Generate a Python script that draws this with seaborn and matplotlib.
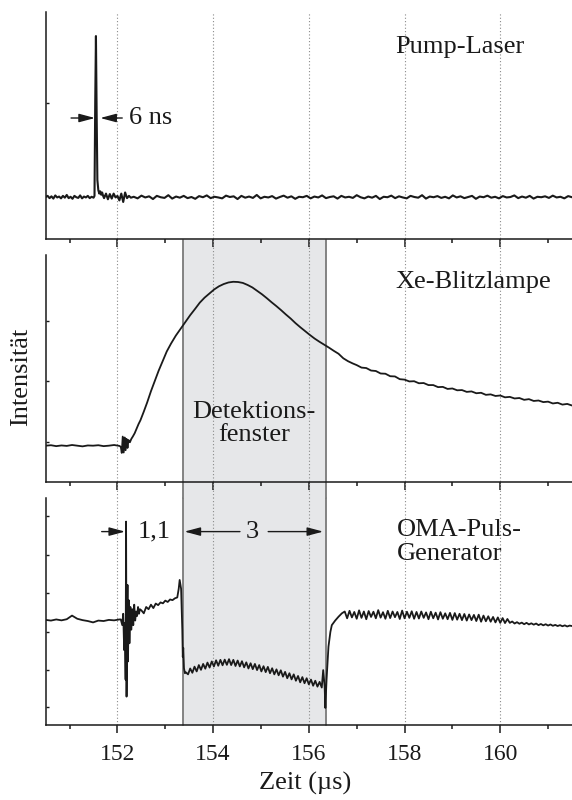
import numpy as np
import matplotlib
matplotlib.use("Agg")
import matplotlib.pyplot as plt
import seaborn as sns

sns.set_theme(style="ticks")
plt.rcParams['font.family'] = ['Liberation Serif', 'DejaVu Serif']
plt.rcParams['text.color'] = '#1a1a1a'
plt.rcParams['axes.labelcolor'] = '#1a1a1a'
plt.rcParams['xtick.color'] = '#1a1a1a'
plt.rcParams['ytick.color'] = '#1a1a1a'

# ---------------- data (intensity in arbitrary units, 0..1 per panel) ----------------
# Panel 1: Pump-Laser
pump_pre_y = [.185, .19, .18, .188, .178, .192, .183, .187, .179, .19, .182, .194, .18,
              .186, .177, .19, .184, .181, .192, .179, .187, .183, .19, .18, .186, .182]
pump_spike_x = [151.52, 151.535, 151.55, 151.565, 151.58, 151.60, 151.62, 151.64, 151.66,
                151.68, 151.70, 151.72, 151.76, 151.80, 151.84, 151.88, 151.92, 151.96,
                152.00, 152.04, 152.08, 152.12, 152.16, 152.20, 152.24, 152.28]
pump_spike_y = [.19, .60, .894, .55, .26, .215, .20, .21, .195, .205, .19, .18, .20, .175,
                .198, .178, .20, .183, .19, .17, .20, .163, .205, .18, .19, .182]
pump_post_y = [.186, .179, .191, .183, .188, .176, .19, .184, .181, .193, .178, .187, .182, .19, .18, .185, .177, .189, .184, .192,
               .18, .186, .183, .179, .191, .185, .188, .176, .19, .182, .187, .181, .194, .179, .186, .183, .189, .178, .185, .191,
               .182, .188, .177, .186, .184, .19, .179, .187, .183, .192, .18, .185, .188, .178, .19, .183, .186, .181, .193, .184,
               .179, .187, .182, .19, .176, .186, .184, .191, .18, .188, .183, .179, .19, .185, .182, .193, .178, .187, .184, .189,
               .181, .186, .179, .192, .183, .188, .18, .185, .19, .177, .187, .184, .191, .182, .186, .179, .189, .183, .185, .192,
               .18, .187, .182, .19, .178, .186, .184, .188, .181, .191, .183, .186, .179, .189, .184]

# Panel 2: Xe-Blitzlampe
xe_base_y = [.16, .162, .158, .161, .159, .163, .16, .157, .161, .16, .162, .158, .16, .163, .159]
xe_x = [152.07, 152.09, 152.11, 152.13, 152.15, 152.17, 152.19, 152.21, 152.23, 152.26, 152.29,
        152.32, 152.36, 152.40, 152.44, 152.48, 152.55, 152.62, 152.70, 152.78, 152.86, 152.94,
        153.03, 153.12, 153.22, 153.32, 153.42, 153.52, 153.62, 153.72, 153.82, 153.92, 154.02,
        154.12, 154.22, 154.32, 154.42, 154.52, 154.62, 154.72, 154.82, 154.92, 155.02, 155.12,
        155.22, 155.32, 155.42, 155.52, 155.62, 155.72, 155.82, 155.92, 156.02, 156.12, 156.22,
        156.32, 156.42, 156.52, 156.62, 156.72, 156.82, 156.92]
xe_y = [.155, .128, .20, .13, .196, .14, .19, .15, .185, .175, .19, .20, .215, .235, .255, .272,
        .31, .35, .40, .445, .49, .53, .575, .61, .645, .675, .705, .735, .762, .79, .812, .83,
        .848, .862, .872, .879, .882, .881, .877, .868, .857, .842, .827, .81, .792, .775, .757,
        .738, .72, .70, .682, .665, .648, .632, .618, .605, .592, .578, .565, .545, .532, .522]
xe_tail_y = [.515, .504, .502, .491, .489, .478, .477, .466, .465, .453, .451, .443, .444, .435,
             .436, .427, .427, .418, .419, .41, .412, .404, .405, .397, .399, .391, .393, .384,
             .386, .379, .381, .373, .375, .368, .37, .362, .365, .357, .359, .352, .354, .346,
             .349, .341, .344, .337]

# Panel 3: OMA-Puls-Generator
oma_base_x = [150.5, 150.61, 150.72, 150.83, 150.94, 151.05, 151.16, 151.27, 151.38, 151.49,
              151.6, 151.71, 151.82, 151.93, 152.04]
oma_base_y = [.463, .46, .465, .461, .466, .482, .468, .462, .458, .452, .46, .458, .463, .461, .465]
oma_burst_x = [152.07, 152.10, 152.12, 152.14, 152.155, 152.17, 152.18, 152.19, 152.2, 152.21,
               152.22, 152.235, 152.25, 152.27, 152.29, 152.31, 152.33, 152.35, 152.37, 152.39,
               152.41, 152.43, 152.45, 152.47, 152.5, 152.55, 152.6, 152.65, 152.7, 152.75, 152.8,
               152.85, 152.9, 152.95, 153.0, 153.05, 153.1, 153.15, 153.2, 153.25, 153.28, 153.3,
               153.33, 153.355, 153.365, 153.375, 153.39, 153.41]
oma_burst_y = [.465, .44, .49, .33, .45, .20, .896, .125, .45, .617, .28, .55, .36, .52, .42, .51,
               .44, .53, .46, .50, .48, .52, .49, .51, .505, .492, .52, .51, .53, .515, .535, .528,
               .54, .536, .548, .542, .553, .55, .558, .562, .60, .639, .60, .42, .30, .34, .25, .228]
oma_window_y = [.232, .223, .249, .230, .257, .236, .264, .243, .269, .248, .275, .253, .280, .258,
                .285, .261, .287, .263, .288, .265, .290, .264, .287, .260, .284, .258, .281, .254,
                .276, .249, .272, .246, .269, .242, .264, .236, .259, .233, .256, .228, .250, .223,
                .245, .219, .241, .213, .234, .206, .228, .201, .223, .195, .216, .188, .211, .184,
                .206, .179, .200, .173, .195, .169, .190, .165]
oma_edge_x = [156.30, 156.33, 156.345, 156.37, 156.41, 156.45, 156.48, 156.55, 156.62, 156.69]
oma_edge_y = [.242, .17, .075, .20, .345, .41, .44, .46, .477, .492]
oma_plateau_y = [.50, .47, .503, .474, .498, .468, .505, .472, .50, .466,
                 .502, .476, .499, .47, .506, .473, .497, .468, .503, .471,
                 .50, .475, .498, .467, .504, .47, .499, .472, .501, .468,
                 .498, .469, .50, .472, .496, .466, .499, .47, .495, .465,
                 .497, .468, .492, .466, .494, .463, .493, .464, .49, .462,
                 .489, .46, .487, .462, .485, .458, .486, .455, .482, .457,
                 .479, .455, .476, .452, .474, .45, .471, .449, .467, .45]
oma_tail_y = [.456, .447, .453, .446, .451, .444, .45, .443, .448, .442, .447, .44, .445, .439,
              .444, .438, .443, .437, .441, .436, .44, .435, .439, .434, .438, .436]

x_major = [152, 154, 156, 158, 160]
x_minor = [151, 153, 155, 157, 159, 161]
window = (153.37, 156.35)
ytick_pos = [[0.6], [0.176, 0.445, 0.709], [0.079, 0.242, 0.41, 0.581, 0.749, 0.921]]

# ---------------- assemble traces ----------------
pump_x = np.concatenate([np.linspace(150.5, 151.5, len(pump_pre_y)), pump_spike_x,
                         np.linspace(152.34, 161.5, len(pump_post_y))])
pump_y = np.concatenate([pump_pre_y, pump_spike_y, pump_post_y])
xe_xx = np.concatenate([np.linspace(150.5, 152.04, len(xe_base_y)), xe_x,
                        np.linspace(157.0, 161.5, len(xe_tail_y))])
xe_yy = np.concatenate([xe_base_y, xe_y, xe_tail_y])
oma_x = np.concatenate([oma_base_x, oma_burst_x, np.linspace(153.43, 156.27, len(oma_window_y)),
                        oma_edge_x, np.linspace(156.75, 160.2, len(oma_plateau_y)),
                        np.linspace(160.25, 161.5, len(oma_tail_y))])
oma_y = np.concatenate([oma_base_y, oma_burst_y, oma_window_y, oma_edge_y, oma_plateau_y, oma_tail_y])

# ---------------- figure ----------------
W_PX, H_PX = 572, 800
fig = plt.figure(figsize=(W_PX / 100, H_PX / 100), dpi=100)
left = 45.7 / W_PX
ax_h = 227 / H_PX
tops = [12, 255, 498]
gap = 16 / 227
axes = []
for i, t in enumerate(tops):
    ax = fig.add_axes([left, 1 - (t + 227) / H_PX, 1 - left, ax_h],
                      sharex=axes[0] if axes else None)
    ax.set_zorder(3 - i)
    ax.set_facecolor('none')
    axes.append(ax)

traces = [(pump_x, pump_y), (xe_xx, xe_yy), (oma_x, oma_y)]
widths = [1.5, 1.3, 1.3]
for i, (ax, (xx, yy)) in enumerate(zip(axes, traces)):
    ax.set_xlim(150.5, 161.5)
    ax.set_ylim(0, 1)
    sns.despine(ax=ax)
    for sp in ['left', 'bottom']:
        ax.spines[sp].set_color('#1a1a1a')
        ax.spines[sp].set_linewidth(1.1)
    lo = -gap if i < 2 else 0
    for xg in x_major:
        ax.axvline(xg, ymin=lo, ymax=1, color='#8a8a8a', lw=0.8, ls=(0, (1, 2)),
                   clip_on=False, zorder=1.5)
    sns.lineplot(x=xx, y=yy, ax=ax, color='#1a1a1a', lw=widths[i], estimator=None, sort=False,
                 zorder=3)
    ax.set_xticks(x_major)
    ax.set_xticks(x_minor, minor=True)
    ax.set_yticks(ytick_pos[i])
    ax.tick_params(axis='x', which='major', direction='out', length=6, width=1.1,
                   labelsize=17, pad=8)
    ax.tick_params(axis='x', which='minor', direction='out', length=3, width=1.1)
    ax.tick_params(axis='y', which='major', direction='in', length=2, width=1,
                   labelleft=False)
    ax.set_xlabel('')
    ax.set_ylabel('')
    if i < 2:
        ax.tick_params(axis='x', labelbottom=False)

# detection window shading (middle + bottom, continuous through gaps)
for ax, lo, hi in [(axes[1], -gap, 1 + 15 / 227), (axes[2], 0, 1)]:
    ax.axvspan(window[0], window[1], ymin=lo, ymax=hi, color='#e6e7e9', lw=0,
               clip_on=False, zorder=0.5)
    for xe_ in window:
        ax.axvline(xe_, ymin=lo, ymax=hi, color='#7a7a7a', lw=1.3, clip_on=False, zorder=1)

FS = 19
axes[0].text(157.8, 0.846, 'Pump-Laser', fontsize=FS, ha='left', va='center')
axes[0].text(152.24, 0.533, '6 ns', fontsize=FS, ha='left', va='center')
axes[1].text(157.8, 0.882, 'Xe-Blitzlampe', fontsize=FS, ha='left', va='center')
axes[1].text(154.86, 0.258, 'Detektions-\nfenster', fontsize=FS, ha='center', va='center',
             linespacing=1.1)
axes[2].text(157.85, 0.806, 'OMA-Puls-\nGenerator', fontsize=FS, ha='left', va='center',
             linespacing=1.1)
axes[2].text(152.76, 0.852, '1,1', fontsize=FS, ha='center', va='center')
axes[2].text(154.82, 0.852, '3', fontsize=FS, ha='center', va='center')

arrow_kw = dict(arrowstyle='-|>,head_length=0.6,head_width=0.16', color='#1a1a1a', lw=1.0,
                mutation_scale=16, shrinkA=0, shrinkB=0)
for ax, (x0, x1, y) in [(axes[0], (151.03, 151.53, 0.533)), (axes[0], (152.1, 151.64, 0.533)),
                        (axes[2], (151.67, 152.16, 0.852)), (axes[2], (154.56, 153.40, 0.852)),
                        (axes[2], (155.15, 156.30, 0.852))]:
    ax.annotate('', xy=(x1, y), xytext=(x0, y), arrowprops=arrow_kw)

fig.text(21.5 / W_PX, 1 - 377 / H_PX, 'Intensität', rotation=90, fontsize=FS,
         ha='center', va='center')
fig.text(305 / W_PX, 1 - 783 / H_PX, 'Zeit (µs)', fontsize=FS, ha='center', va='center')

fig.savefig('out.png', dpi=100, facecolor='white')
